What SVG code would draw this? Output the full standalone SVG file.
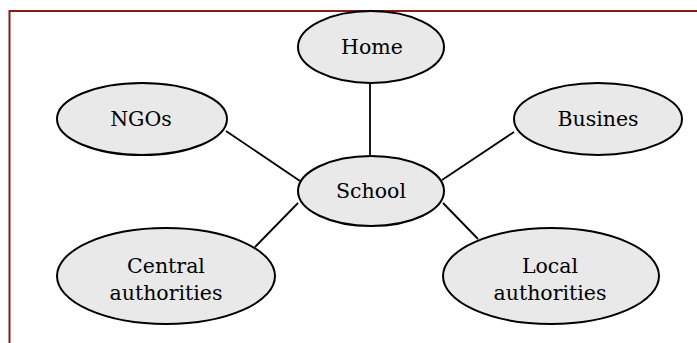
<svg xmlns="http://www.w3.org/2000/svg" width="697" height="343" viewBox="0 0 697 343">
<style>
.node ellipse{fill:#e9e9e9;stroke:#000;stroke-width:2}
.node text{font-family:"DejaVu Serif","Liberation Serif",serif;font-size:20.5px;fill:#000;text-anchor:middle}
.edges line{stroke:#000;stroke-width:1.8}
</style>
<rect width="697" height="343" fill="#fff"/>
<polyline points="9.5,343 9.5,11 697,11" fill="none" stroke="#8b1a1a" stroke-width="2"/>
<g class="edges">
<line x1="370" y1="83" x2="370" y2="157"/>
<line x1="226" y1="131" x2="300" y2="181"/>
<line x1="514" y1="132" x2="442" y2="180"/>
<line x1="255" y1="247" x2="298" y2="203"/>
<line x1="443" y1="203" x2="478" y2="239"/>
</g>
<g id="home" class="node"><ellipse cx="371" cy="47" rx="73" ry="36"/><text x="372" y="54">Home</text></g>
<g id="ngos" class="node"><ellipse cx="142" cy="119" rx="85" ry="36"/><text x="141" y="126">NGOs</text></g>
<g id="busines" class="node"><ellipse cx="598" cy="119" rx="84" ry="36"/><text x="598" y="126">Busines</text></g>
<g id="school" class="node"><ellipse cx="371" cy="191" rx="73" ry="35"/><text x="371" y="198">School</text></g>
<g id="central" class="node"><ellipse cx="166" cy="276" rx="109" ry="48"/><text x="166" y="273">Central</text><text x="166" y="300">authorities</text></g>
<g id="local" class="node"><ellipse cx="551" cy="276" rx="108" ry="48"/><text x="550" y="273">Local</text><text x="550" y="300">authorities</text></g>
</svg>
